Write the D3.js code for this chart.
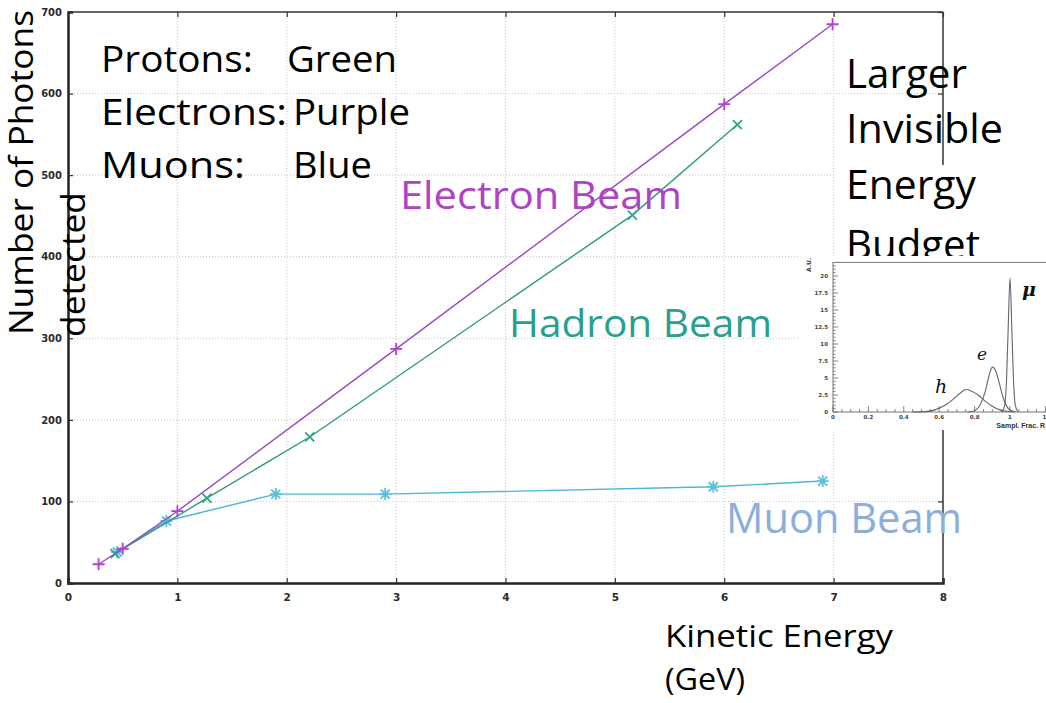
<!DOCTYPE html>
<html><head><meta charset="utf-8">
<script src="https://cdn.jsdelivr.net/npm/d3@7"></script>
<style>html,body{margin:0;padding:0;background:#fff;}svg{display:block;}</style>
</head><body>
<svg id="c" width="1046" height="703"></svg>
<script>
// ---- data ----
const xTicks = [0,1,2,3,4,5,6,7,8];
const yTicks = [0,100,200,300,400,500,600,700];
const electronE = [0.28,0.5,1.0,3.0,6.0,6.99];
const electronN = [23,42,88,287,587,685];
const hadronE = [0.43,1.27,2.21,5.16,6.12];
const hadronN = [36,104,179,451,562];
const muonE = [0.45,0.9,1.9,2.9,5.9,6.9];
const muonN = [38,76,109,109,118,125];
const legendKeys = ["Protons:","Electrons:","Muons:"];
const legendVals = ["Green","Purple","Blue"];
const noteLines = ["Larger","Invisible","Energy","Budget"];
// inset (sampling fraction distributions)
const insetXTicks = [0,0.2,0.4,0.6,0.8,1,1.2];
const insetXLabels = ["0","0.2","0.4","0.6","0.8","1","1."];
const insetYTicks = [0,2.5,5,7.5,10,12.5,15,17.5,20];
const hX = [0.45,0.52,0.58,0.63,0.68,0.72,0.75,0.78,0.82,0.86,0.9,0.94,0.98,1.02];
const hY = [0,0.05,0.35,0.95,1.9,2.8,3.3,3.1,2.5,1.6,0.85,0.35,0.1,0];
const eX = [0.76,0.8,0.83,0.86,0.88,0.9,0.92,0.94,0.96,0.98,1.0,1.03];
const eY = [0,0.2,1.0,3.0,5.2,6.6,6.0,4.2,2.2,0.9,0.3,0];
const mX = [0.955,0.97,0.98,0.99,1.0,1.01,1.02,1.03,1.045];
const mY = [0,1.0,4.5,12.5,19.7,12.5,4.5,1.0,0];

const svg = d3.select("#c");
const L=68, T=12, R=943, B=583;
const x = d3.scaleLinear().domain([0,8]).range([L,R]);
const y = d3.scaleLinear().domain([0,700]).range([B,T]);
const textFont = "'Open Sans', 'Noto Sans', sans-serif";

// grid
const g = svg.append("g");
g.selectAll(".gx").data(xTicks.slice(1,-1)).enter().append("line")
  .attr("x1",d=>x(d)).attr("x2",d=>x(d)).attr("y1",T).attr("y2",B)
  .attr("stroke","#c9c4c6").attr("stroke-width",1).attr("stroke-dasharray","1,2");
g.selectAll(".gy").data(yTicks.slice(1,-1)).enter().append("line")
  .attr("y1",d=>y(d)).attr("y2",d=>y(d)).attr("x1",L).attr("x2",R)
  .attr("stroke","#c9c4c6").attr("stroke-width",1).attr("stroke-dasharray","1,2");

// frame
svg.append("line").attr("x1",L).attr("x2",R).attr("y1",T).attr("y2",T).attr("stroke","#333").attr("stroke-width",1.5);
svg.append("line").attr("x1",R).attr("x2",R).attr("y1",T).attr("y2",B).attr("stroke","#333").attr("stroke-width",1.5);

// axes
const xAxis = svg.append("g").attr("transform",`translate(0,${B})`)
  .call(d3.axisBottom(x).tickValues(xTicks).tickSize(-5).tickPadding(11));
const yAxis = svg.append("g").attr("transform",`translate(${L},0)`)
  .call(d3.axisLeft(y).tickValues(yTicks).tickSize(-5).tickPadding(6));
const xTop = svg.append("g").attr("transform",`translate(0,${T})`)
  .call(d3.axisTop(x).tickValues(xTicks).tickSize(-5).tickFormat(""));
const yRight = svg.append("g").attr("transform",`translate(${R},0)`)
  .call(d3.axisRight(y).tickValues(yTicks).tickSize(-5).tickFormat(""));
[xAxis,yAxis].forEach(a=>{
  a.select(".domain").attr("stroke","#222").attr("stroke-width",2.5);
  a.selectAll(".tick line").attr("stroke","#333").attr("stroke-width",1.2);
  a.selectAll(".tick text").attr("font-family","'DejaVu Sans', sans-serif").attr("font-weight","bold")
    .attr("font-size",10.5).attr("fill","#2a2a2a");
});
[xTop,yRight].forEach(a=>{
  a.select(".domain").remove();
  a.selectAll(".tick line").attr("stroke","#333").attr("stroke-width",1.2);
});
yAxis.selectAll(".tick text").attr("font-size",10);

// series
const series = [
  {E:electronE, N:electronN, line:"#9a48c4", mark:"#b040d8", type:"plus"},
  {E:hadronE, N:hadronN, line:"#2e9a7c", mark:"#2fa58a", type:"x"},
  {E:muonE, N:muonN, line:"#4bb6d8", mark:"#5cbfe0", type:"star"}
];
const markPath = (t,s)=>{
  const p = `M${-s},0H${s}M0,${-s}V${s}`;
  const xx = `M${-s*0.75},${-s*0.75}L${s*0.75},${s*0.75}M${-s*0.75},${s*0.75}L${s*0.75},${-s*0.75}`;
  return t==="plus"?p:(t==="x"?xx:p+xx);
};
const lineGen = d3.line().x(d=>x(d[0])).y(d=>y(d[1]));
[series[2],series[1],series[0]].forEach(s=>{
  const pts = s.E.map((e,i)=>[e,s.N[i]]);
  svg.append("path").attr("d",lineGen(pts)).attr("fill","none").attr("stroke",s.line).attr("stroke-width",1.4);
  svg.selectAll(null).data(pts).enter().append("path")
    .attr("transform",d=>`translate(${x(d[0])},${y(d[1])})`)
    .attr("d",markPath(s.type,6)).attr("stroke",s.mark).attr("stroke-width",1.8).attr("fill","none");
});

// helper for text
function txt(s,px,py,size,color,len){
  const t = svg.append("text").attr("x",px).attr("y",py).attr("font-family",textFont)
    .attr("font-size",size).attr("fill",color).text(s);
  if(len){t.attr("textLength",len).attr("lengthAdjust","spacingAndGlyphs");}
  return t;
}

// white overlay region (image covering right side)
svg.append("rect").attr("x",836).attr("y",165).attr("width",210).attr("height",95).attr("fill","#fff");

// legend text
const lgY = [72,125,178];
const lgKLen = [152,186,144];
const lgVX = [287,293,293];
const lgVLen = [110,117,79];
legendKeys.forEach((k,i)=>{
  txt(k,101,lgY[i],37,"#000",lgKLen[i]);
  txt(legendVals[i],lgVX[i],lgY[i],37,"#000",lgVLen[i]);
});

// beam labels
txt("Electron Beam",400,209,39,"#b042c4",282);
txt("Hadron Beam",509,337,39,"#27a08f",263);
txt("Muon Beam",726,533,42,"#8bafd9",236);

// note text
const noteY=[88,143,199,259];
const noteLen=[121,157,130,134];
noteLines.forEach((s,i)=>txt(s,846,noteY[i],40,"#000",noteLen[i]));

// axis titles
svg.append("text").attr("transform","translate(33,335) rotate(-90)").attr("font-family",textFont)
  .attr("font-size",33).attr("fill","#000").attr("textLength",325).attr("lengthAdjust","spacingAndGlyphs").text("Number of Photons");
svg.append("text").attr("transform","translate(85,337) rotate(-90)").attr("font-family",textFont)
  .attr("font-size",33).attr("fill","#000").attr("textLength",145).attr("lengthAdjust","spacingAndGlyphs").text("detected");
txt("Kinetic Energy",665,647,31,"#000",228);
txt("(GeV)",665,690,31,"#000",80);

// ---- inset ----
svg.append("rect").attr("x",800).attr("y",256).attr("width",246).attr("height",174).attr("fill","#fff");
const ix = d3.scaleLinear().domain([0,1.2]).range([833,1045.4]);
const iy = d3.scaleLinear().domain([0,22]).range([412,262.4]);
const ig = svg.append("g");
ig.append("rect").attr("x",833).attr("y",iy(22)).attr("width",ix(1.2)-833+2).attr("height",412-iy(22))
  .attr("fill","none").attr("stroke","#777").attr("stroke-width",1);
ig.selectAll(".mx").data(d3.range(0,1.21,0.05)).enter().append("line")
  .attr("x1",d=>ix(d)).attr("x2",d=>ix(d)).attr("y1",412).attr("y2",d=>Math.abs(d*5-Math.round(d*5))<1e-6?406:409)
  .attr("stroke","#666").attr("stroke-width",0.8);
ig.selectAll(".my").data(d3.range(0,22,0.5)).enter().append("line")
  .attr("y1",d=>iy(d)).attr("y2",d=>iy(d)).attr("x1",833).attr("x2",d=>(d%2.5===0)?838:835.5)
  .attr("stroke","#666").attr("stroke-width",0.8);
ig.selectAll(".lx").data(insetXTicks).enter().append("text")
  .attr("x",d=>ix(d)).attr("y",419).attr("text-anchor","middle").attr("font-family","'DejaVu Sans',sans-serif")
  .attr("font-size",5.5).attr("font-weight","bold").attr("fill","#444").text((d,i)=>insetXLabels[i]);
ig.selectAll(".ly").data(insetYTicks).enter().append("text")
  .attr("x",828).attr("y",d=>iy(d)+2).attr("text-anchor","end").attr("font-family","'DejaVu Sans',sans-serif")
  .attr("font-size",5.5).attr("font-weight","bold").attr("fill","#444").text(d=>d);
ig.append("text").attr("transform","translate(811,272) rotate(-90)").attr("font-family","'DejaVu Sans',sans-serif")
  .attr("font-size",6).attr("font-weight","bold").attr("fill","#333").text("A.U.");
ig.append("text").attr("x",1045).attr("y",428).attr("text-anchor","end").attr("font-family","'Liberation Sans',sans-serif")
  .attr("font-size",7).attr("font-weight","bold").attr("fill","#333").text("Sampl. Frac. R");
const il = d3.line().x(d=>ix(d[0])).y(d=>iy(d[1])).curve(d3.curveMonotoneX);
[[hX,hY],[eX,eY],[mX,mY]].forEach(([X,Y])=>{
  ig.append("path").attr("d",il(X.map((v,i)=>[v,Y[i]]))).attr("fill","none").attr("stroke","#666").attr("stroke-width",1.1);
});
ig.append("text").attr("x",935).attr("y",393).attr("font-family","'DejaVu Serif',serif").attr("font-style","italic")
  .attr("font-size",19).attr("fill","#111").text("h");
ig.append("text").attr("x",977).attr("y",360).attr("font-family","'DejaVu Serif',serif").attr("font-style","italic")
  .attr("font-size",17).attr("fill","#111").text("e");
ig.append("text").attr("x",1022).attr("y",296).attr("font-family","'DejaVu Serif',serif").attr("font-style","italic")
  .attr("font-weight","bold").attr("font-size",19).attr("fill","#111").text("μ");
</script>
</body></html>
